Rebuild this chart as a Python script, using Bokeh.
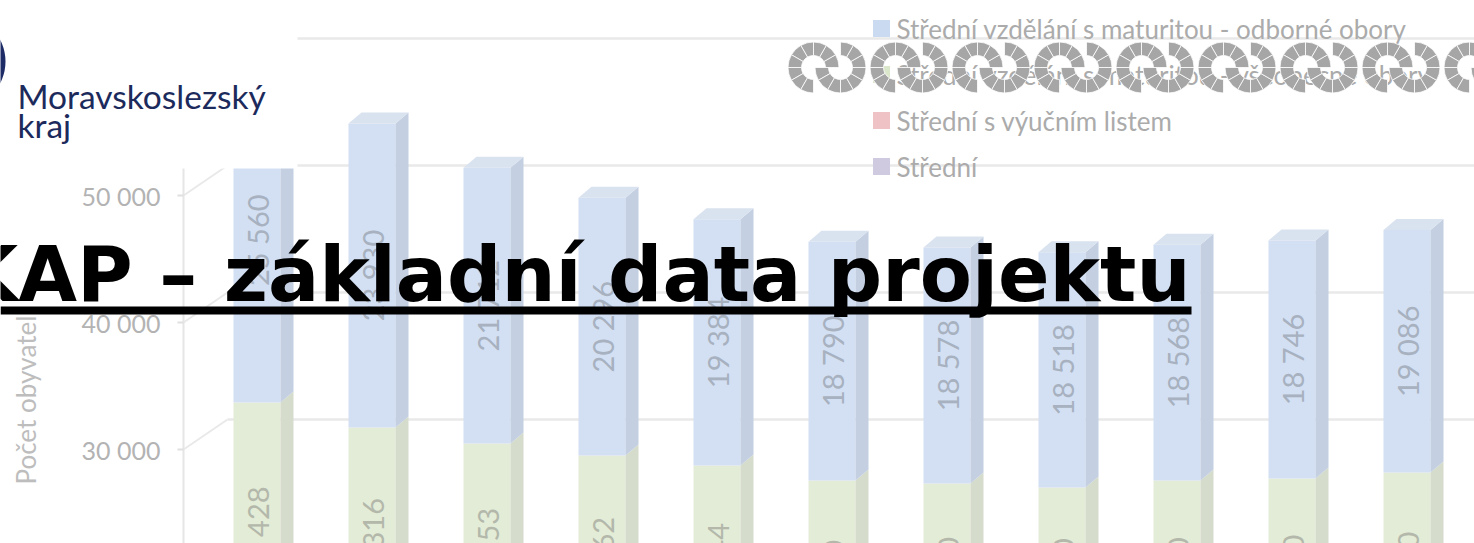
import numpy as np
from bokeh.plotting import figure
from bokeh.models import Range1d
from bokeh.core.properties import value
from bokeh.embed import file_html
from bokeh.resources import INLINE

# ---------------- data ----------------
bar_index = list(range(11))
series_names = [
    "Střední",
    "Střední s výučním listem",
    "Střední vzdělání s maturitou - všeobecné obory",
    "Střední vzdělání s maturitou - odborné obory",
]
purple_vals = [2146, 2169, 2142, 2119, 2089, 2022, 2026, 2021, 2002, 1980, 1962]
red_vals = [10300, 10420, 10150, 9720, 9580, 8160, 8830, 8980, 8580, 8850, 8860]
green_vals = [20428, 18316, 17353, 16862, 16244, 16550, 15640, 15180, 16150, 16060, 16540]
blue_vals = [25560, 23930, 21712, 20296, 19384, 18790, 18578, 18518, 18568, 18746, 19086]
tick_values = [30000, 40000, 50000, 60000]
tick_labels = ["30 000", "40 000", "50 000", "60 000"]
y_title = "Počet obyvatel"
title_text = "KAP – základní data projektu"
logo_lines = ["Moravskoslezský", "kraj"]

# ---------------- layout (pixels) ----------------
W, H = 1474, 543
K = 0.0127            # px per unit
REF_V, REF_PY = 50000, 184.5
BAR_PX0, BAR_STEP = 256.5, 115.0


def X(px):
    return (px - BAR_PX0) / BAR_STEP


def Y(py):
    return REF_V - (py - REF_PY) / K


FRONT_SHIFT = 10.5    # px: axis plane lies below bar plane
BACK_SHIFT = 19.5     # px: back wall above bar plane
HW = 23.5 / BAR_STEP
DX = 13 / BAR_STEP
DY = 11 / K

p = figure(width=W, height=H, x_range=Range1d(X(0), X(W)), y_range=Range1d(Y(H), Y(0)),
           output_backend="svg", toolbar_location=None, min_border=0,
           x_axis_type=None, y_axis_type=None, outline_line_color=None,
           background_fill_color="white", border_fill_color="white")
p.grid.visible = False

grid_col = "#e9e9e9"
# back wall gridlines
p.segment(x0=[X(227)] * len(tick_values), x1=[X(W)] * len(tick_values),
          y0=[t + BACK_SHIFT / K for t in tick_values], y1=[t + BACK_SHIFT / K for t in tick_values],
          line_color=grid_col, line_width=2.5)
# side wall diagonals
p.segment(x0=[X(183)] * len(tick_values), x1=[X(227)] * len(tick_values),
          y0=[t - FRONT_SHIFT / K for t in tick_values], y1=[t + BACK_SHIFT / K for t in tick_values],
          line_color=grid_col, line_width=2)
# axis line and ticks
p.segment(x0=[X(183)], x1=[X(183)], y0=[60000 - FRONT_SHIFT / K], y1=[Y(H)], line_color="#e6e6e6", line_width=2)
p.segment(x0=[X(177)] * len(tick_values), x1=[X(183)] * len(tick_values),
          y0=[t - FRONT_SHIFT / K for t in tick_values], y1=[t - FRONT_SHIFT / K for t in tick_values],
          line_color="#e0e0e0", line_width=2)

# ---------------- bars ----------------
series = [purple_vals, red_vals, green_vals, blue_vals]
front_cols = ["#dad5e7", "#f2cbcb", "#e3ecd7", "#d3e0f3"]
side_cols = ["#cbc6d9", "#e2bcbc", "#d5dccb", "#c4d0e2"]
top_col = "#d9e2ef"
x = np.array(bar_index, dtype=float)
bottom = np.zeros(len(x))
tops = []
for vals, fc, sc in zip(series, front_cols, side_cols):
    v = np.array(vals, dtype=float)
    top = bottom + v
    p.quad(left=x - HW, right=x + HW, bottom=bottom, top=top, fill_color=fc, line_color=None)
    xs = [[xi + HW, xi + HW + DX, xi + HW + DX, xi + HW] for xi in x]
    ys = [[b, b + DY, t + DY, t] for b, t in zip(bottom, top)]
    p.patches(xs=xs, ys=ys, fill_color=sc, line_color=None)
    tops.append((bottom.copy(), top.copy()))
    bottom = top
# top face of stack
xs = [[xi - HW, xi + HW, xi + HW + DX, xi - HW + DX] for xi in x]
ys = [[t, t, t + DY, t + DY] for t in bottom]
p.patches(xs=xs, ys=ys, fill_color=top_col, line_color=None)

# data labels (green & blue segments)
lab_cols = ["#b0b5bc", "#b0b5bc", "#b3b8ab", "#a7b1bf"]
for si in (2, 3):
    b, t = tops[si]
    p.text(x=x, y=(b + t) / 2, text=[f"{v:,}".replace(",", " ") for v in series[si]],
           angle=np.pi / 2, text_align="center", text_baseline="middle",
           text_font=value("Lato"), text_font_size="29px", text_color=lab_cols[si])

# tick labels
p.text(x=[X(160)] * len(tick_values), y=tick_values, text=tick_labels, y_offset=FRONT_SHIFT,
       text_align="right", text_baseline="middle", text_font=value("Lato"),
       text_font_size="25px", text_color="#b3b3b3")
# y axis title
p.text(x=[X(25)], y=[Y(484)], text=[y_title], angle=np.pi / 2, text_align="left",
       text_baseline="middle", text_font=value("Lato"), text_font_size="26px", text_color="#bdbdbd")

# legend (top = last series)
leg_py = [28, 74, 120, 166]
leg_cols = ["#cadaf0", "#dbe7ca", "#efc3c5", "#cfcadf"]
leg_names = list(reversed(series_names))
p.rect(x=[X(881)] * 4, y=[Y(v) for v in leg_py], width=17, height=17,
       width_units="screen", height_units="screen", fill_color=leg_cols, line_color=None)
p.text(x=[X(896)] * 4, y=[Y(v) for v in leg_py], text=leg_names, text_align="left",
       text_baseline="middle", text_font=value("Lato"), text_font_size="26px", text_color="#ababab")

# ornament row
orn_x, orn_y = [], []
orn_s, orn_e = [], []
for u in range(9):
    lx = 813 + 82 * u
    rx = lx + 27
    for cx, quarters in ((lx, (0, 1, 2)), (rx, (2, 3, 4))):
        for q in quarters:
            for s in range(3):
                a0 = np.deg2rad(q * 90 + s * 30)
                orn_x.append(X(cx)); orn_y.append(Y(67))
                orn_s.append(a0); orn_e.append(a0 + np.deg2rad(30))
p.annular_wedge(x=orn_x, y=orn_y, inner_radius=12, outer_radius=25.5,
                inner_radius_units="screen", outer_radius_units="screen",
                start_angle=orn_s, end_angle=orn_e, fill_color="#a6a6a6",
                line_color="white", line_width=0.8)

# logo box
p.quad(left=[X(0)], right=[X(297)], top=[Y(33)], bottom=[Y(168)], fill_color="white", line_color=None)
p.annulus(x=[X(-42)], y=[Y(61)], inner_radius=38, outer_radius=47,
          inner_radius_units="screen", outer_radius_units="screen",
          fill_color="#1d2c66", line_color=None)
p.text(x=[X(17), X(17)], y=[Y(95), Y(124)], text=logo_lines, text_align="left",
       text_baseline="alphabetic", text_font=value("Lato"), text_font_size="33.5px",
       text_color="#1c2a5c")

# title with underline
p.text(x=[X(1190)], y=[Y(274)], text=[title_text], text_align="right", text_baseline="alphabetic",
       text_font=value("DejaVu Sans"), text_font_style="bold", text_font_size="76px",
       text_color="black")
p.quad(left=[X(0)], right=[X(1191)], top=[Y(306)], bottom=[Y(314)], fill_color="black", line_color=None)

open("out.html", "w").write(file_html(p, INLINE))
